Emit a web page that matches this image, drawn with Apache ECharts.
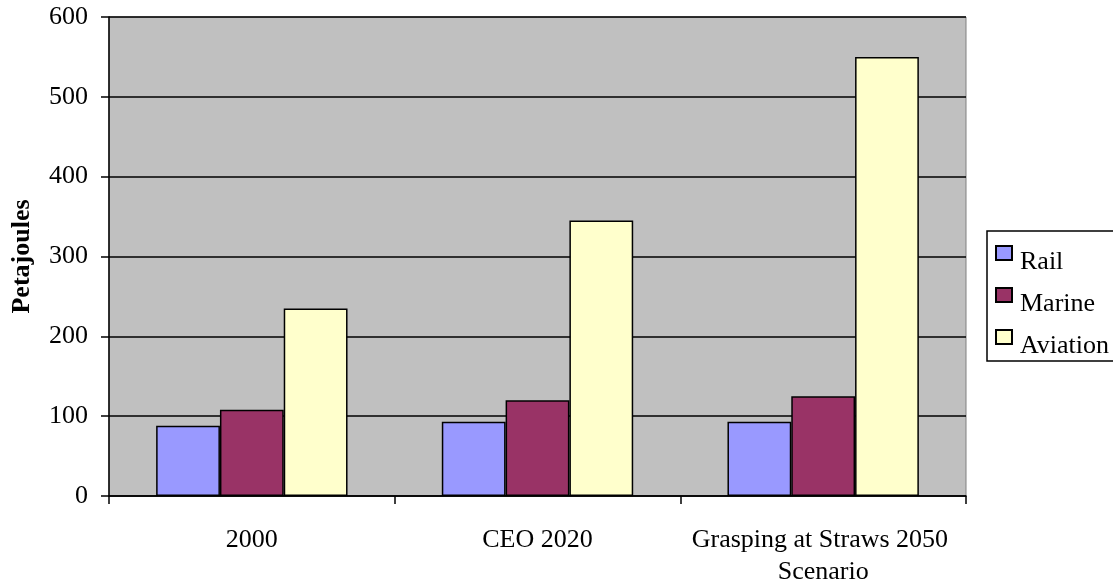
<!DOCTYPE html>
<html>
<head>
<meta charset="utf-8">
<script src="https://cdn.jsdelivr.net/npm/echarts@6/dist/echarts.min.js"></script>
<style>
  html, body { margin: 0; padding: 0; background: #fff; }
  #chart { width: 1113px; height: 588px; }
</style>
</head>
<body>
<div id="chart"></div>
<script>
// Energy use by non-road transport mode, in petajoules
const categories = ['2000', 'CEO 2020', 'Grasping at Straws 2050 Scenario'];
const railValues = [88, 93, 93];
const marineValues = [108, 120, 125];
const aviationValues = [235, 345, 550];
const yTicks = { min: 0, max: 600, interval: 100 };

const serif = '"Liberation Serif", "Times New Roman", serif';

const barStyle = (color) => ({ color: color, borderColor: '#000', borderWidth: 1.5 });

const chart = echarts.init(document.getElementById('chart'), null, { renderer: 'canvas' });
chart.setOption({
  animation: false,
  backgroundColor: '#fff',
  grid: {
    left: 109, right: 147, top: 17, bottom: 91,
    show: true, backgroundColor: '#C0C0C0', borderColor: '#808080', borderWidth: 1
  },
  legend: {
    orient: 'vertical',
    left: 987, top: 231,
    padding: [0, 60, 2, 8],
    itemGap: -2,
    itemWidth: 16, itemHeight: 14,
    icon: 'rect',
    borderColor: '#000', borderWidth: 1.5,
    backgroundColor: '#fff',
    formatter: '{t|{name}}',
    textStyle: {
      lineHeight: 20,
      rich: {
        t: { fontFamily: serif, fontSize: 26, color: '#000', lineHeight: 20, padding: [18, 0, 0, 3] }
      }
    },
    data: ['Rail', 'Marine', 'Aviation']
  },
  xAxis: {
    type: 'category',
    data: categories,
    axisLine: { lineStyle: { color: '#000', width: 1.5 } },
    axisTick: { show: true, length: 8, alignWithLabel: false, lineStyle: { color: '#000', width: 1.5 } },
    axisLabel: {
      fontFamily: serif, fontSize: 26, color: '#000', margin: 28,
      width: 275, overflow: 'break', lineHeight: 32, interval: 0
    },
    splitLine: { show: false }
  },
  yAxis: {
    type: 'value',
    min: yTicks.min, max: yTicks.max, interval: yTicks.interval,
    name: 'Petajoules',
    nameLocation: 'middle',
    nameGap: 74,
    nameRotate: 90,
    nameTextStyle: { fontFamily: serif, fontSize: 26, fontWeight: 'bold', color: '#000' },
    axisLine: { show: true, lineStyle: { color: '#000', width: 1.5 } },
    axisTick: { show: true, length: 8, inside: false, lineStyle: { color: '#000', width: 1.5 } },
    axisLabel: { fontFamily: serif, fontSize: 26, color: '#000', margin: 21 },
    splitLine: { show: true, lineStyle: { color: '#000', width: 1.5 } }
  },
  series: [
    { name: 'Rail', type: 'bar', data: railValues, itemStyle: barStyle('#9999FF'), barGap: '0%', barCategoryGap: '33%' },
    { name: 'Marine', type: 'bar', data: marineValues, itemStyle: barStyle('#993366'), barGap: '0%', barCategoryGap: '33%' },
    { name: 'Aviation', type: 'bar', data: aviationValues, itemStyle: barStyle('#FFFFCC'), barGap: '0%', barCategoryGap: '33%' }
  ]
});
</script>
</body>
</html>
